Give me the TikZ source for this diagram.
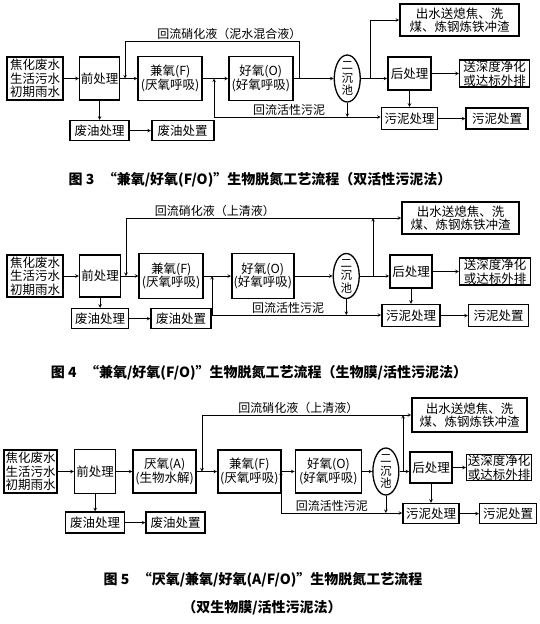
\documentclass[tikz,border=0pt]{standalone}
\usepackage{fontspec}
\setmainfont{Noto Sans CJK SC}
\usepackage{tikz}
\usetikzlibrary{shapes.geometric, arrows, positioning}
\newcommand\boxfont{\fontsize{12.5}{13.5}\selectfont}
\newcommand\lblfont{\fontsize{12}{13}\selectfont}
\newcommand\tankfont{\fontsize{11.5}{12.5}\selectfont}
\newcommand\capfont{\fontsize{14}{16}\selectfont\bfseries}
\tikzstyle{arrow} = [semithick,->,>=stealth]
\tikzstyle{conn} = [semithick]
\tikzstyle{process} = [rectangle, draw=black, line width=1.6pt, inner sep=0.5pt, align=center, font=\boxfont]
\tikzstyle{tank} = [ellipse, draw=black, line width=1.3pt, minimum width=26pt, minimum height=47pt, inner sep=0pt]
\tikzstyle{flowlabel} = [font=\lblfont, inner sep=1.5pt]
\tikzstyle{figcap} = [font=\capfont]
\tikzset{
	tanktext/.style = {font=\tankfont, align=center, inner sep=0pt}
}

\begin{document}
\begin{tikzpicture}[x=1pt, y=-1pt]
\useasboundingbox (0,0) rectangle (539,624);
%----------------------------------------------------------------------------
% Fig. 3: F/O, double activated sludge
\node (in3) [process, minimum width=56pt, minimum height=43pt] at (35,78.5) {焦化废水\\生活污水\\初期雨水};
\node (pre3) [process, minimum width=40pt, minimum height=43pt, right=15pt of in3] {前处理};
\node (F3) [process, minimum width=64pt, minimum height=44pt, right=17pt of pre3] {兼氧(F)\\(厌氧呼吸)};
\node (O3) [process, minimum width=64pt, minimum height=44pt, right=25pt of F3] {好氧(O)\\(好氧呼吸)};
\node (cl3) [tank, right=40pt of O3, label={[tanktext]center:{二\\沉\\池}}] {};
\node (post3) [process, minimum width=43pt, minimum height=33pt] at (409.5,73.5) {后处理};
\node (deep3) [process, minimum width=70pt, minimum height=27pt, right=27pt of post3] {送深度净化\\或达标外排};
\node (out3) [process, minimum width=119pt, minimum height=32pt] at (459.5,20) {出水送熄焦、洗\\煤、炼钢炼铁冲渣};
\node (sl3) [process, minimum width=56pt, minimum height=22pt, below=16pt of post3] {污泥处理};
\node (sld3) [process, minimum width=62pt, minimum height=21pt, right=27pt of sl3] {污泥处置};
\node (oil3) [process, minimum width=59pt, minimum height=20pt, below=19pt of pre3] {废油处理};
\node (oild3) [process, minimum width=62pt, minimum height=20pt, right=21pt of oil3] {废油处置};

\coordinate (ru3) at (299,41);
\coordinate (rl3) at (125,41);
\coordinate (ob3) at (370,20);
\coordinate (sb3) at (214,117);

\draw [arrow] (in3) -- (pre3);
\draw [arrow] (pre3) -- (F3);
\draw [arrow] (F3) -- (O3);
\draw [arrow] (O3) -- (cl3);
\draw [arrow] (cl3.east) -- (cl3.east -| post3.west);
\draw [arrow] (post3) -- (deep3);
\draw [arrow] (post3) -- (sl3);
\draw [arrow] (sl3) -- (sld3);
\draw [arrow] (pre3) -- (oil3);
\draw [arrow] (oil3) -- (oild3);
\draw [arrow] (ru3 |- O3.east) -- (ru3) -- node[flowlabel, above, pos=.4] (lr3) {回流硝化液（泥水混合液）} (rl3) -- (rl3 |- F3.west);
\draw [conn] (ob3 |- cl3.east) -- (ob3);
\draw [arrow] (ob3) -- (out3.west);
\draw [arrow] (cl3.south) -- (cl3.south |- sb3);
\draw [arrow] (sb3) -- (sb3 |- F3.east);
\draw [arrow] (sb3) -- node[flowlabel, above, pos=.45] (ls3) {回流活性污泥} (sb3 -| sl3.west);

\node (cap3) [figcap] at (260,180) {图 3\hspace{0.6em}“兼氧/好氧(F/O)”生物脱氮工艺流程（双活性污泥法）};

%----------------------------------------------------------------------------
% Fig. 4: F/O, biofilm / activated sludge
\node (in4) [process, minimum width=56pt, minimum height=42pt] at (35,276) {焦化废水\\生活污水\\初期雨水};
\node (pre4) [process, minimum width=41pt, minimum height=42pt, right=15pt of in4] {前处理};
\node (F4) [process, minimum width=64pt, minimum height=45pt, right=17pt of pre4] {兼氧(F)\\(厌氧呼吸)};
\node (O4) [process, minimum width=62pt, minimum height=45pt, right=27pt of F4] {好氧(O)\\(好氧呼吸)};
\node (cl4) [tank, minimum height=45pt, right=38pt of O4, label={[tanktext]center:{二\\沉\\池}}] {};
\node (post4) [process, minimum width=42pt, minimum height=33pt] at (411,271.5) {后处理};
\node (deep4) [process, minimum width=71pt, minimum height=27pt, right=26pt of post4] {送深度净化\\或达标外排};
\node (out4) [process, minimum width=117pt, minimum height=32pt] at (460.5,218) {出水送熄焦、洗\\煤、炼钢炼铁冲渣};
\node (sl4) [process, minimum width=58pt, minimum height=22pt, below=15pt of post4] {污泥处理};
\node (sld4) [process, minimum width=60pt, minimum height=22pt, right=27pt of sl4] {污泥处置};
\node (oil4) [process, minimum width=57pt, minimum height=20pt, below=10pt of pre4] {废油处理};
\node (oild4) [process, minimum width=60pt, minimum height=20pt, right=21pt of oil4] {废油处置};

\coordinate (ru4) at (373,218);
\coordinate (rl4) at (126,218);
\coordinate (sb4) at (212,315);

\draw [arrow] (in4) -- (pre4);
\draw [arrow] (pre4) -- (F4);
\draw [arrow] (F4) -- (O4);
\draw [arrow] (O4) -- (cl4);
\draw [arrow] (cl4.east) -- (cl4.east -| post4.west);
\draw [arrow] (post4) -- (deep4);
\draw [arrow] (post4) -- (sl4);
\draw [arrow] (sl4) -- (sld4);
\draw [arrow] (pre4) -- (oil4);
\draw [arrow] (oil4) -- (oild4);
\draw [arrow] (ru4 |- cl4.east) -- (ru4);
\draw [arrow] (ru4) -- (out4.west);
\draw [arrow] (ru4) -- node[flowlabel, above, pos=.64] (lr4) {回流硝化液（上清液）} (rl4) -- (rl4 |- F4.west);
\draw [arrow] (cl4.south) -- (cl4.south |- sb4);
\draw [arrow] (sb4) -- (sb4 |- F4.east);
\draw [arrow] (sb4) -- node[flowlabel, above, pos=.45] (ls4) {回流活性污泥} (sb4 -| sl4.west);

\node (cap4) [figcap] at (259,373) {图 4\hspace{0.6em}“兼氧/好氧(F/O)”生物脱氮工艺流程（生物膜/活性污泥法）};

%----------------------------------------------------------------------------
% Fig. 5: A/F/O, double biofilm / activated sludge
\node (in5) [process, minimum width=53pt, minimum height=43pt] at (30.5,471.5) {焦化废水\\生活污水\\初期雨水};
\node (pre5) [process, minimum width=41pt, minimum height=44pt, right=16pt of in5] {前处理};
\node (A5) [process, minimum width=63pt, minimum height=43pt, right=16pt of pre5] {厌氧(A)\\(生物水解)};
\node (F5) [process, minimum width=63pt, minimum height=43pt, right=20pt of A5] {兼氧(F)\\(厌氧呼吸)};
\node (O5) [process, minimum width=66pt, minimum height=43pt, right=13pt of F5] {好氧(O)\\(好氧呼吸)};
\node (cl5) [tank, right=10pt of O5, label={[tanktext]center:{二\\沉\\池}}] {};
\node (post5) [process, minimum width=42pt, minimum height=31pt] at (431,467.5) {后处理};
\node (deep5) [process, minimum width=65pt, minimum height=25pt, right=13pt of post5] {送深度净化\\或达标外排};
\node (out5) [process, minimum width=115pt, minimum height=34pt] at (469.5,415) {出水送熄焦、洗\\煤、炼钢炼铁冲渣};
\node (sl5) [process, minimum width=56pt, minimum height=20pt, below=19pt of post5] {污泥处理};
\node (sld5) [process, minimum width=57pt, minimum height=20pt, right=19pt of sl5] {污泥处置};
\node (oil5) [process, minimum width=59pt, minimum height=21pt, below=17pt of pre5] {废油处理};
\node (oild5) [process, minimum width=59pt, minimum height=21pt, right=20pt of oil5] {废油处置};

\coordinate (ru5) at (403,415);
\coordinate (rl5) at (202,415);
\coordinate (sb5) at (281,513);

\draw [arrow] (in5) -- (pre5);
\draw [arrow] (pre5) -- (A5);
\draw [arrow] (A5) -- (F5);
\draw [arrow] (F5) -- (O5);
\draw [arrow] (O5) -- (cl5);
\draw [arrow] (cl5.east) -- (cl5.east -| post5.west);
\draw [arrow] (post5) -- (deep5);
\draw [arrow] (post5) -- (sl5);
\draw [arrow] (sl5) -- (sld5);
\draw [arrow] (pre5) -- (oil5);
\draw [arrow] (oil5) -- (oild5);
\draw [arrow] (ru5 |- cl5.east) -- (ru5);
\draw [arrow] (ru5) -- (out5.west);
\draw [arrow] (ru5) -- node[flowlabel, above, pos=.52] (lr5) {回流硝化液（上清液）} (rl5) -- (rl5 |- F5.west);
\draw [arrow] (cl5.south) -- (cl5.south |- sb5);
\draw [arrow] (sb5) -- (sb5 |- F5.east);
\draw [arrow] (sb5) -- node[flowlabel, above, pos=.42] (ls5) {回流活性污泥} (sb5 -| sl5.west);

\node (cap5) [figcap] at (263,580) {图 5\hspace{0.6em}“厌氧/兼氧/好氧(A/F/O)”生物脱氮工艺流程};
\node (cap5b) [figcap] at (262,608) {（双生物膜/活性污泥法）};

\end{tikzpicture}
\end{document}
